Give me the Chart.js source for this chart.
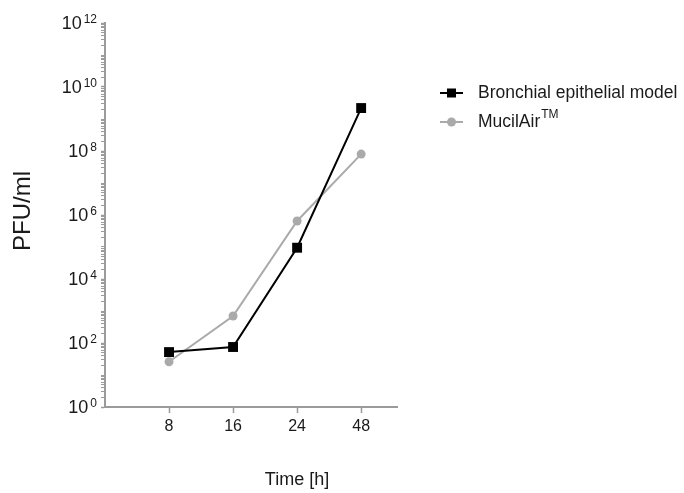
<!DOCTYPE html>
<html>
<head>
<meta charset="utf-8">
<script src="https://cdn.jsdelivr.net/npm/chart.js@4.4.1/dist/chart.umd.min.js"></script>
<style>
  html, body { margin: 0; padding: 0; background: #fff; }
  #wrap { width: 684px; height: 493px; }
</style>
</head>
<body>
<div id="wrap"><canvas id="pfu-chart"></canvas></div>
<script>
// Data
const timeLabels = ['8', '16', '24', '48'];
const bronchialValues = [52, 75, 9.5e4, 2.2e9];
const mucilairValues = [26, 700, 6.5e5, 8e7];
const exponentLabels = [0, 2, 4, 6, 8, 10, 12];

const FONT = '"Liberation Sans", Arial, sans-serif';
const TEXT = '#1a1a1a';
const AXIS = '#9b9b9b';

// Minor + major tick values for the log axis
function logTickValues() {
    const out = [];
    for (let e = 0; e < 12; e++) {
        for (let m = 1; m < 10; m++) out.push({ value: m * Math.pow(10, e) });
    }
    out.push({ value: 1e12 });
    return out;
}

function isMajor(v) {
    const e = Math.log10(v);
    return Math.abs(e - Math.round(e)) < 1e-9 && Math.round(e) % 2 === 0;
}

// Draws superscript tick labels, axis titles and legend
const extrasPlugin = {
    id: 'extras',
    afterDraw(chart) {
        const ctx = chart.ctx;
        const y = chart.scales.y;
        ctx.save();
        ctx.fillStyle = TEXT;

        // y tick labels like 10^n
        exponentLabels.forEach(e => {
            const py = y.getPixelForValue(Math.pow(10, e));
            const expTxt = String(e);
            ctx.font = '12px ' + FONT;
            const ew = ctx.measureText(expTxt).width;
            const right = 97;
            ctx.textBaseline = 'alphabetic';
            ctx.textAlign = 'left';
            ctx.fillText(expTxt, right - ew, py);
            ctx.font = '18px ' + FONT;
            ctx.textAlign = 'right';
            ctx.fillText('10', right - ew - 2, py + 6);
        });

        // y axis title
        ctx.font = '24px ' + FONT;
        ctx.textAlign = 'center';
        ctx.textBaseline = 'middle';
        ctx.translate(23, 211);
        ctx.rotate(-Math.PI / 2);
        ctx.fillText('PFU/ml', 0, 0);
        ctx.setTransform(1, 0, 0, 1, 0, 0);

        // x axis title
        ctx.font = '18px ' + FONT;
        ctx.fillText('Time [h]', 297, 480);

        // legend
        const rows = [
            { ds: chart.data.datasets[0], y: 93, text: 'Bronchial epithelial model', sup: '' },
            { ds: chart.data.datasets[1], y: 122, text: 'MucilAir', sup: 'TM' }
        ];
        rows.forEach(r => {
            ctx.strokeStyle = r.ds.borderColor;
            ctx.lineWidth = 2;
            ctx.beginPath();
            ctx.moveTo(440, r.y);
            ctx.lineTo(463, r.y);
            ctx.stroke();
            ctx.fillStyle = r.ds.pointBackgroundColor;
            if (r.ds.pointStyle === 'rect') {
                ctx.fillRect(447, r.y - 4.5, 9, 9);
            } else {
                ctx.beginPath();
                ctx.arc(451.5, r.y, 4.5, 0, Math.PI * 2);
                ctx.fill();
            }
            ctx.fillStyle = TEXT;
            ctx.font = '17.5px ' + FONT;
            ctx.textAlign = 'left';
            ctx.textBaseline = 'middle';
            ctx.fillText(r.text, 478, r.y);
            if (r.sup) {
                const w = ctx.measureText(r.text).width;
                ctx.font = '12px ' + FONT;
                ctx.fillText(r.sup, 478 + w + 1, r.y - 7);
            }
        });
        ctx.restore();
    }
};

new Chart(document.getElementById('pfu-chart'), {
    type: 'line',
    data: {
        datasets: [
            {
                label: 'Bronchial epithelial model',
                data: bronchialValues.map((v, i) => ({ x: i + 1, y: v })),
                borderColor: '#000000',
                backgroundColor: '#000000',
                pointBackgroundColor: '#000000',
                pointBorderColor: '#000000',
                pointStyle: 'rect',
                pointRadius: 7,
                pointBorderWidth: 0,
                borderWidth: 2,
                tension: 0,
                order: 0
            },
            {
                label: 'MucilAir™',
                data: mucilairValues.map((v, i) => ({ x: i + 1, y: v })),
                borderColor: '#aaaaaa',
                backgroundColor: '#aaaaaa',
                pointBackgroundColor: '#aaaaaa',
                pointBorderColor: '#aaaaaa',
                pointStyle: 'circle',
                pointRadius: 4.5,
                pointBorderWidth: 0,
                borderWidth: 2,
                tension: 0,
                order: 1
            }
        ]
    },
    options: {
        responsive: true,
        maintainAspectRatio: false,
        animation: false,
        layout: { padding: { left: 0, top: 23, right: 287, bottom: 0 } },
        plugins: {
            legend: { display: false },
            tooltip: { enabled: false }
        },
        elements: { line: { clip: false } },
        scales: {
            x: {
                type: 'linear',
                min: 0,
                max: 4.56,
                afterBuildTicks: scale => { scale.ticks = [1, 2, 3, 4].map(v => ({ value: v })); },
                afterFit: scale => { scale.height = 86; },
                border: { color: AXIS, width: 2 },
                grid: { drawOnChartArea: false, drawTicks: true, tickLength: 6, tickColor: AXIS, tickWidth: 1.5 },
                ticks: {
                    autoSkip: false,
                    maxRotation: 0,
                    padding: 4,
                    color: TEXT,
                    font: { family: FONT, size: 16 },
                    callback: v => timeLabels[v - 1]
                }
            },
            y: {
                type: 'logarithmic',
                min: 1,
                max: 1e12,
                afterBuildTicks: scale => { scale.ticks = logTickValues(); },
                afterFit: scale => { scale.width = 105; },
                border: { color: AXIS, width: 2 },
                grid: {
                    drawOnChartArea: false,
                    drawTicks: true,
                    tickLength: 4,
                    tickColor: AXIS,
                    tickWidth: ctx => (ctx.tick && isMajor(ctx.tick.value) ? 1.5 : 1)
                },
                ticks: { display: false, autoSkip: false }
            }
        }
    },
    plugins: [extrasPlugin]
});
</script>
</body>
</html>
